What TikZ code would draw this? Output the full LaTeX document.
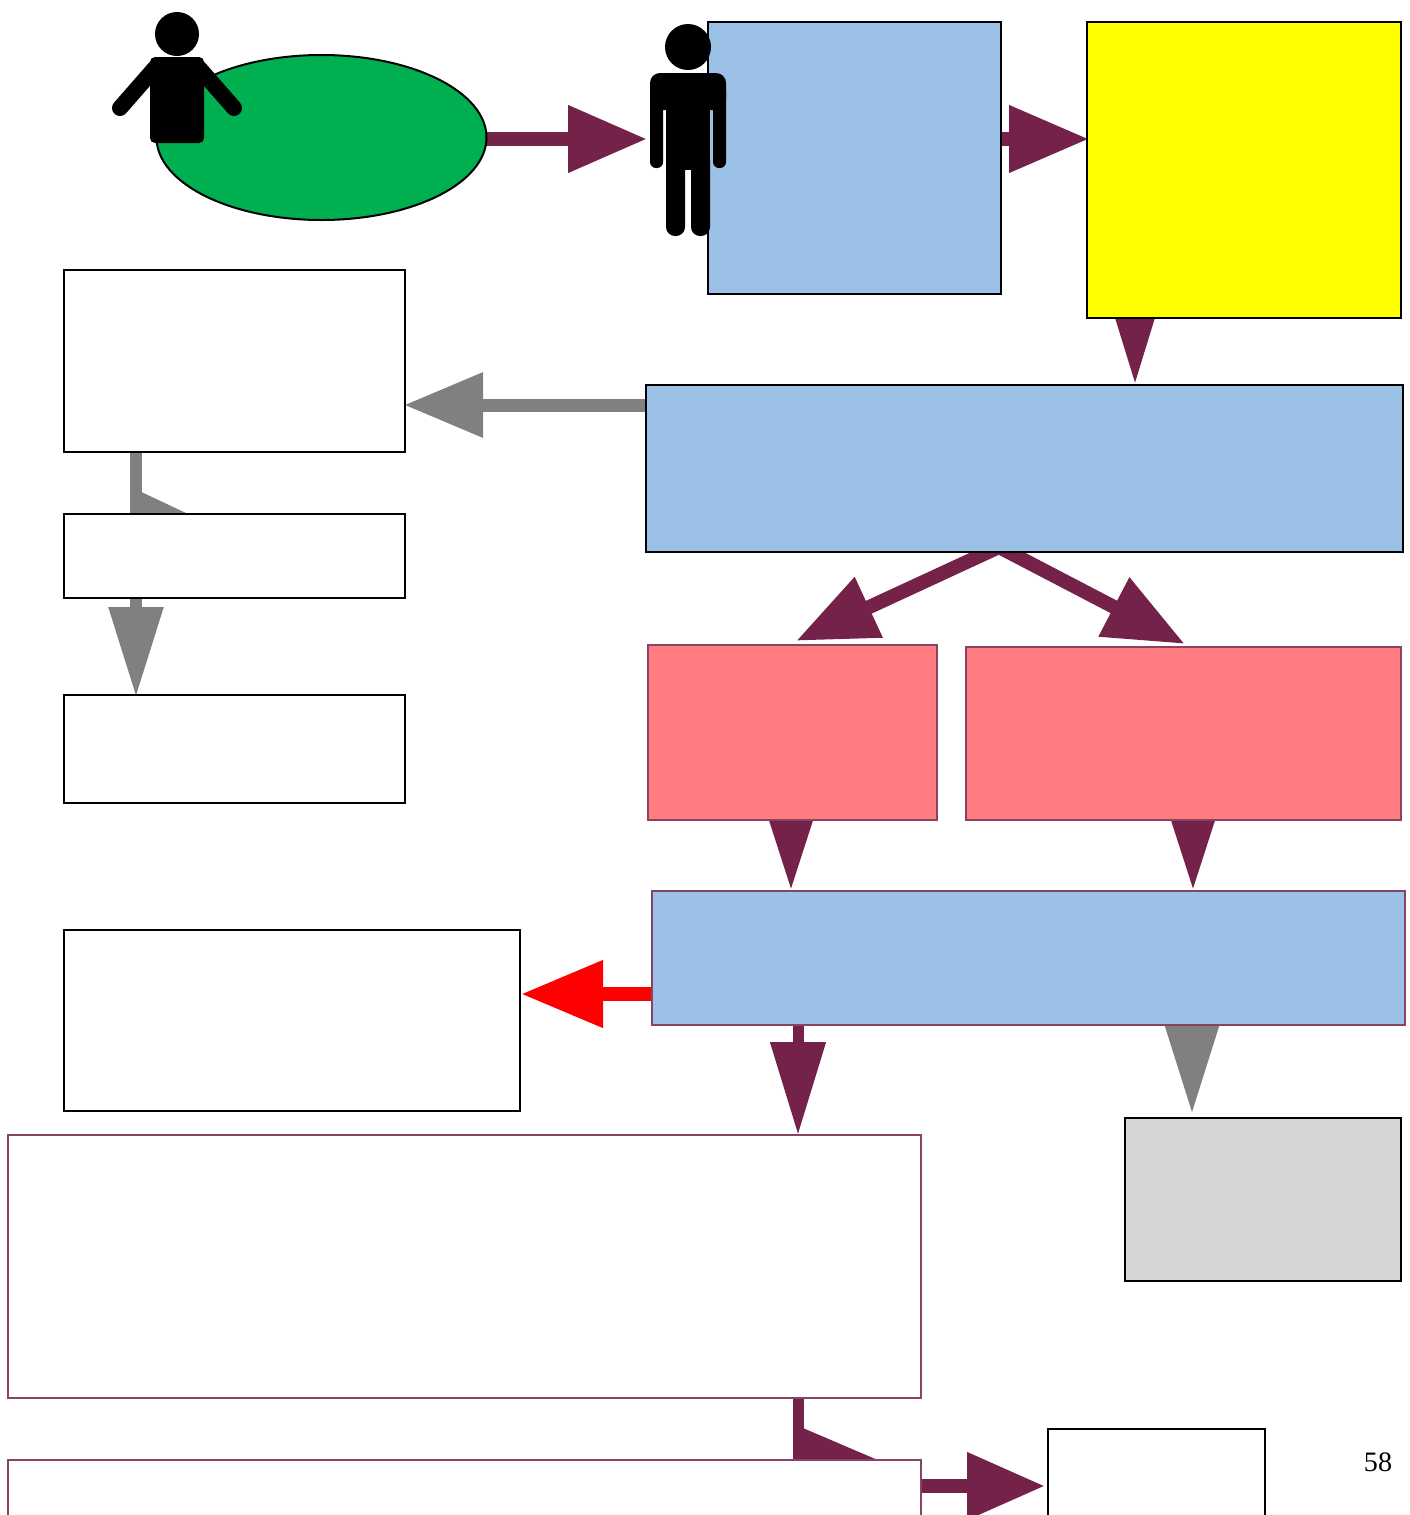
\documentclass[tikz,border=0pt]{standalone}
\usepackage{fontspec}
\setmainfont{Liberation Serif}
\usetikzlibrary{arrows.meta, calc, shapes.geometric}
\pgfdeclarelayer{back}
\pgfsetlayers{back,main}
\definecolor{plum}{HTML}{74224A}
\definecolor{sky}{HTML}{9BC2E6}
\definecolor{salmon}{HTML}{FF7C80}
\definecolor{leaf}{HTML}{00AF50}
\definecolor{lemon}{HTML}{FFFF00}
\definecolor{pure}{HTML}{FF0000}
\tikzset{
sized/.style 2 args={minimum width=#1*0.02cm, minimum height=#2*0.02cm},
blackbox/.style={draw=black, line width=0.04cm, fill=white, inner sep=0pt, anchor=north west, xshift=-0.02cm, yshift=0.02cm},
plumbox/.style={draw=plum!85, line width=0.04cm, fill=white, inner sep=0pt, anchor=north west, xshift=-0.02cm, yshift=0.02cm},
head/.style 2 args={shorten >=-0.04cm, arrows={-{Triangle[length=(#1+2)*0.02cm, width=(#2-4)*0.02cm, inset=0pt]}}},
link/.style={draw=plum, line width=0.28cm},
graylink/.style={draw=gray, line width=0.26cm},
redlink/.style={draw=pure, line width=0.28cm}
}
\begin{document}
\begin{tikzpicture}[x=0.02cm, y=-0.02cm]
\useasboundingbox (0,0) rectangle (1410,1515);
% boxes
\node[ellipse, draw=black, line width=0.04cm, fill=leaf, inner sep=0pt, sized={330}{165}] (oval) at (321.5,137.5) {};
\node[blackbox, fill=sky, sized={293}{272}] (planbox) at (708,22) {};
\node[blackbox, fill=lemon, sized={314}{296}] (yellowbox) at (1087,22) {};
\node[blackbox, sized={341}{182}] (noteA) at (64,270) {};
\node[blackbox, sized={341}{84}] (noteB) at (64,514) {};
\node[blackbox, sized={341}{108}] (noteC) at (64,695) {};
\node[blackbox, fill=sky, sized={757}{167}] (wideA) at (646,385) {};
\node[plumbox, fill=salmon, sized={289}{175}] (pinkL) at (648,645) {};
\node[plumbox, fill=salmon, sized={435}{173}] (pinkR) at (966,647) {};
\node[plumbox, fill=sky, sized={753}{134}] (wideB) at (652,891) {};
\node[blackbox, sized={456}{181}] (noteD) at (64,930) {};
\node[plumbox, sized={913}{263}] (listA) at (8,1135) {};
\node[blackbox, fill=black!16, sized={276}{163}] (grayfill) at (1125,1118) {};
\node[plumbox, sized={913}{120}] (listB) at (8,1460) {};
\node[blackbox, sized={217}{120}] (endbox) at (1048,1429) {};
\node (pagenum) at (1378,1462) {\fontsize{16}{18}\selectfont 58};
% free ends
\coordinate (tipPerson) at (645,139);
\coordinate (tipYellow) at (1087,139);
\coordinate (tipWide) at (1135,385);
\coordinate (tipNote) at (406,405);
\coordinate (stubA) at (136,452);
\coordinate (elbowA) at (225,532);
\coordinate (tipC) at (136,695);
\coordinate (forkL) at (999,547);
\coordinate (forkR) at (999,547);
\coordinate (tipL) at (798,640);
\coordinate (tipR) at (1183,643);
\coordinate (tipPinkL) at (791,890);
\coordinate (tipPinkR) at (1193,890);
\coordinate (tipRed) at (523,994);
\coordinate (tipList) at (798,1133);
\coordinate (tipGray) at (1192,1112);
\coordinate (stubB) at (798,1398);
\coordinate (elbowB) at (895,1468);
\coordinate (tipEnd) at (1043,1486);
% connectors, under the boxes
\begin{pgfonlayer}{back}
\draw[link, head={77}{68}] (oval.center |- tipPerson) -- (tipPerson);
\draw[link, head={78}{68}] (planbox.center |- tipYellow) -- (tipYellow);
\draw[link, head={70}{41}] (tipWide |- yellowbox.south) ++(0,-3) -- (tipWide);
\draw[graylink, head={77}{66}] (wideA.center |- tipNote) -- (tipNote);
\draw[graylink, line width=0.24cm, head={83}{80}] (stubA) |- (elbowA);
\draw[graylink, line width=0.24cm, head={88}{56}] (tipC |- noteB.center) -- (tipC);
\draw[link, head={78}{67}] (forkL) -- (tipL);
\draw[link, head={78}{67}] (forkR) -- (tipR);
\draw[link, head={72}{45}] (tipPinkL |- pinkL.south) ++(0,-2) -- (tipPinkL);
\draw[link, head={72}{45}] (tipPinkR |- pinkR.south) ++(0,-2) -- (tipPinkR);
\draw[redlink, head={80}{68}] (wideB.center |- tipRed) -- (tipRed);
\draw[link, line width=0.22cm, head={91}{57}] (tipList |- wideB.center) -- (tipList);
\draw[graylink, head={90}{57}] (tipGray |- wideB.south) ++(0,-3) -- (tipGray);
\draw[link, line width=0.22cm, head={91}{80}] (stubB) |- (elbowB);
\draw[link, head={76}{68}] (listB.center |- tipEnd) -- (tipEnd);
\end{pgfonlayer}
% seated figure
\fill (177,34) circle (22*0.02cm);
\fill[rounded corners=0.1cm] (150,57) rectangle (204,143);
\draw[line width=0.32cm, line cap=round] (155,68) -- (120,108);
\draw[line width=0.32cm, line cap=round] (199,68) -- (234,108);
% standing figure
\fill (688,47) circle (23*0.02cm);
\fill[rounded corners=0.2cm] (650,73) rectangle (726,110);
\fill[rounded corners=0.12cm] (650,85) rectangle (663,168);
\fill[rounded corners=0.12cm] (713,85) rectangle (726,168);
\fill (666,80) rectangle (710,170);
\fill[rounded corners=0.18cm] (666,150) rectangle (685,236);
\fill[rounded corners=0.18cm] (691,150) rectangle (710,236);
\end{tikzpicture}
\end{document}
